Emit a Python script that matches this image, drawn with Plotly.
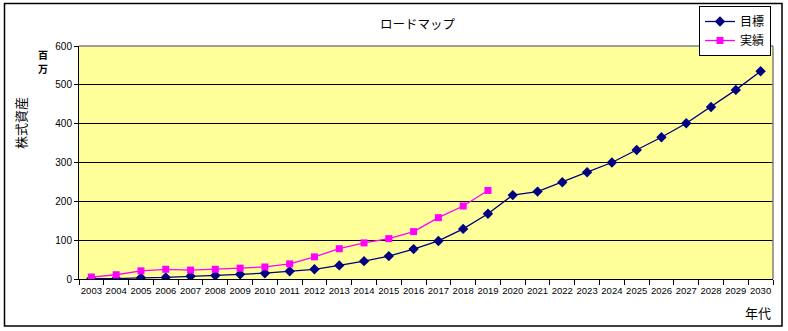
import plotly.graph_objects as go

# --- data -------------------------------------------------------------
years = [str(y) for y in range(2003, 2031)]

target = [1, 1, 3, 4, 7, 9, 12, 15, 20, 25, 35, 46, 59, 77, 98, 129, 168,
          216, 225, 249, 275, 300, 332, 365, 401, 443, 487, 535]

actual = [5, 11, 21, 25, 23, 25, 28, 31, 39, 57, 78, 93, 104, 122, 158, 188, 228]
actual_years = years[:len(actual)]

y_ticks = [0, 100, 200, 300, 400, 500, 600]

# --- layout geometry (pixels) ------------------------------------------
W, H = 788, 331
L, R, T, B = 79, 773, 46, 279
PW, PH = R - L, B - T


def px(x):
    return (x - L) / PW


def py(y):
    return (B - y) / PH


FONT = "Noto Sans CJK JP, Liberation Sans, Arial, sans-serif"
NUM_FONT = "Liberation Sans, Arial, sans-serif"


def label(text, x, y, size, **kw):
    return dict(text=text, x=px(x), y=py(y), xref="paper", yref="paper",
                xanchor="center", yanchor="middle", showarrow=False,
                font=dict(size=size, family=FONT, color="black"), **kw)


fig = go.Figure()
fig.add_trace(go.Scatter(
    x=years, y=target, name="目標", mode="lines+markers",
    line=dict(color="#000080", width=1.3),
    marker=dict(symbol="diamond", size=8, color="#000080"),
))
fig.add_trace(go.Scatter(
    x=actual_years, y=actual, name="実績", mode="lines+markers",
    line=dict(color="#FF00FF", width=1.3),
    marker=dict(symbol="square", size=7, color="#FF00FF"),
))

fig.update_layout(
    width=W, height=H,
    margin=dict(l=L, r=W - R, t=T, b=H - B, autoexpand=False),
    paper_bgcolor="white", plot_bgcolor="#FFFF99",
    font=dict(family=FONT, color="black", size=10),
    showlegend=True,
    legend=dict(
        x=px(699), y=py(6), xanchor="left", yanchor="top",
        bordercolor="black", borderwidth=1, bgcolor="white",
        font=dict(size=12, family=FONT), itemwidth=30,
        tracegroupgap=0,
    ),
    xaxis=dict(
        type="category", categoryorder="array", categoryarray=years,
        range=[-0.5, len(years) - 0.5],
        showline=True, linecolor="black", linewidth=1,
        ticks="outside", tickson="boundaries", ticklen=5, tickcolor="black",
        showgrid=False, tickangle=0, ticklabelstandoff=3,
        tickfont=dict(size=9.5, family=NUM_FONT),
    ),
    yaxis=dict(
        range=[0, 600], tickvals=y_ticks,
        showline=True, linecolor="black", linewidth=1,
        ticks="outside", ticklen=4, tickcolor="black",
        showgrid=True, gridcolor="black", gridwidth=1,
        zeroline=False,
        tickfont=dict(size=10, family=NUM_FONT),
    ),
    shapes=[
        # plot area top / right edges
        dict(type="line", xref="paper", yref="paper", x0=0, x1=1, y0=1, y1=1,
             line=dict(color="#808080", width=1.5)),
        dict(type="line", xref="paper", yref="paper", x0=1, x1=1, y0=0, y1=1,
             line=dict(color="#808080", width=1.5)),
        # chart frame
        dict(type="rect", xref="paper", yref="paper",
             x0=px(4.5), x1=px(782), y0=py(3.5), y1=py(326),
             line=dict(color="black", width=1.5)),
    ],
    annotations=[
        label("ロードマップ", 418, 23, 12.5),
        # unit label, stacked vertically
        label("<b>百</b>", 43, 54, 10, borderpad=0),
        label("<b>万</b>", 43, 68, 10, borderpad=0),
        label("株式資産", 20, 123, 13, textangle=-90),
        label("年代", 758, 312, 13),
    ],
)

fig.write_html("out.html")
